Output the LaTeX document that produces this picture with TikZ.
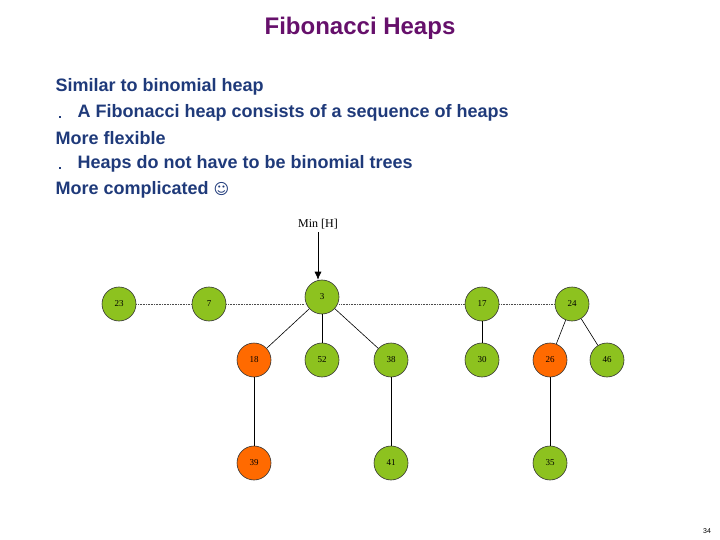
\documentclass[tikz,border=0pt]{standalone}
\usepackage{fontspec}
\usetikzlibrary{arrows.meta}
\setmainfont{Liberation Sans}
\newfontfamily\serifx{Liberation Serif}
\newfontfamily\djv{DejaVu Sans}
\definecolor{gr}{HTML}{8DC21F}
\definecolor{og}{HTML}{FF6A00}
\definecolor{navy}{HTML}{1F3A7A}
\definecolor{pur}{HTML}{66106B}
\begin{document}
\begin{tikzpicture}[x=1pt,y=-1pt,
  hn/.style={circle,draw=black!80,line width=0.6pt,fill=gr,minimum size=34pt,inner sep=0pt,font=\serifx\fontsize{9}{10}\selectfont},
  mk/.style={hn,fill=og},
  tx/.style={anchor=west,text=navy,font=\bfseries\fontsize{18}{20}\selectfont},
  ed/.style={line width=0.6pt}]
\useasboundingbox (0,0) rectangle (720,540);
\node[text=pur,font=\bfseries\fontsize{24}{28}\selectfont] (title) at (360,28) {Fibonacci Heaps};
\node[tx] (l1) at (52,87) {Similar to binomial heap};
\node[tx] (l2) at (74,113) {A Fibonacci heap consists of a sequence of heaps};
\node[tx] (l3) at (52,138) {More flexible};
\node[tx] (l4) at (74,164) {Heaps do not have to be binomial trees};
\node[tx] (l5) at (52,190) {More complicated {\djv\bfseries\fontsize{15}{16}\selectfont ☺}};
\fill[navy] (58.5,116) rectangle (60.5,118);
\fill[navy] (58.5,167) rectangle (60.5,169);
\node[font=\serifx\fontsize{12}{14}\selectfont] (minh) at (318,224) {Min [H]};
\node[hn] (n23) at (119,304) {23};
\node[hn] (n7) at (209,304) {7};
\node[hn] (n3) at (322,297) {3};
\node[hn] (n17) at (482,304) {17};
\node[hn] (n24) at (572,304) {24};
\node[mk] (n18) at (254,360) {18};
\node[hn] (n52) at (322,360) {52};
\node[hn] (n38) at (391,360) {38};
\node[hn] (n30) at (482,360) {30};
\node[mk] (n26) at (550,360) {26};
\node[hn] (n46) at (607,360) {46};
\node[mk] (n39) at (254,463) {39};
\node[hn] (n41) at (391,463) {41};
\node[hn] (n35) at (550,463) {35};
\draw[ed,densely dotted,black!70] (n23) -- (n7);
\draw[ed,densely dotted,black!70] (n7) -- (n3.west |- n7);
\draw[ed,densely dotted,black!70] (n3.east |- n17) -- (n17);
\draw[ed,densely dotted,black!70] (n17) -- (n24);
\draw[ed] (n3) -- (n18);
\draw[ed] (n3) -- (n52);
\draw[ed] (n3) -- (n38);
\draw[ed] (n17) -- (n30);
\draw[ed] (n24) -- (n26);
\draw[ed] (n24) -- (n46);
\draw[ed] (n18) -- (n39);
\draw[ed] (n38) -- (n41);
\draw[ed] (n26) -- (n35);
\draw[ed,-{Latex[length=8pt,width=7pt]}] (minh.south) -- (n3.north -| minh);
\node[font=\fontsize{7}{8}\selectfont] (pg) at (707,531) {34};
\end{tikzpicture}
\end{document}
